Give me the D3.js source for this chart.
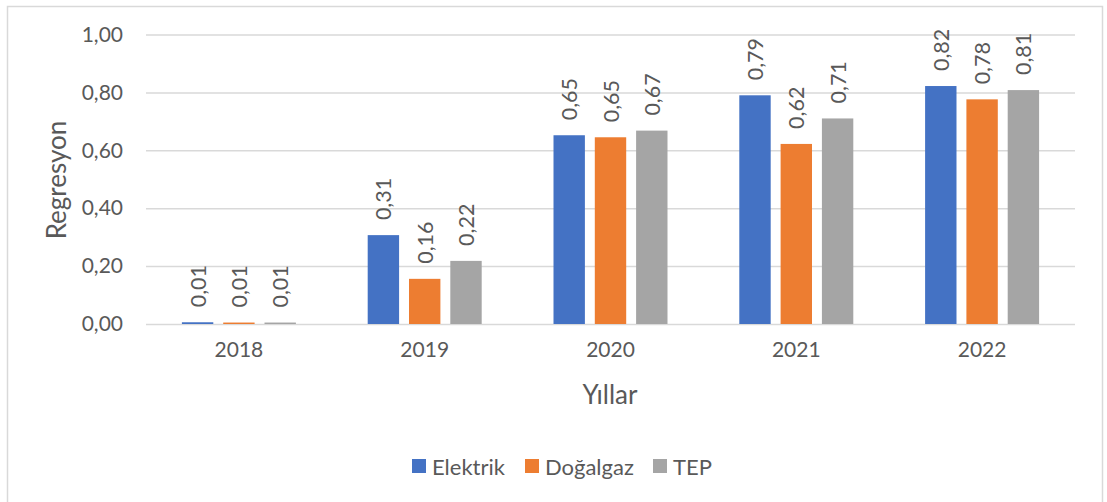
<html>
<head>
<script src="https://d3js.org/d3.v7.min.js" charset="utf-8"></script>
<style>
body {
	margin:0;
	background:#ffffff;
	font-family: Lato, "Open Sans", sans-serif;
}
svg text {
	fill:#595959;
}
</style>
</head>
<body>
<svg width="1107" height="502" id="viz"></svg>
<script>
var years = ["2018","2019","2020","2021","2022"];
var seriesNames = ["Elektrik","Doğalgaz","TEP"];
var elektrik = [0.006, 0.307, 0.652, 0.790, 0.822];
var dogalgaz = [0.005, 0.156, 0.645, 0.622, 0.776];
var tep = [0.005, 0.218, 0.668, 0.710, 0.808];
var yTicks = [0, 0.2, 0.4, 0.6, 0.8, 1.0];
var colors = ["#4472C4","#ED7D31","#A5A5A5"];

var allSeries = [elektrik, dogalgaz, tep];
var svg = d3.select("#viz");

// chart frame
svg.append("rect").attr("x",7.5).attr("y",6.5).attr("width",1095).attr("height",500)
	.attr("fill","none").attr("stroke","#D9D9D9").attr("stroke-width",1.5);

var xScale = d3.scaleBand().domain(years).range([146,1075]).paddingInner(0).paddingOuter(0);
var yScale = d3.scaleLinear().domain([0,1]).range([324,34.5]);
var groupWidth = 114;
var xInner = d3.scaleBand().domain(seriesNames).range([0,groupWidth]).paddingInner(0.24);

var fmt = function (v) { return v.toFixed(2).replace(".", ","); };

// gridlines
svg.append("g").selectAll("line").data(yTicks).enter().append("line")
	.attr("x1",146).attr("x2",1075)
	.attr("y1",function (d) { return yScale(d)+0.5; })
	.attr("y2",function (d) { return yScale(d)+0.5; })
	.attr("stroke","#D9D9D9").attr("stroke-width",1.5);

// y axis
var yAxis = d3.axisLeft(yScale).tickValues(yTicks).tickFormat(fmt).tickSize(0).tickPadding(0);
var yg = svg.append("g").attr("transform","translate(123,0)").call(yAxis);
yg.select(".domain").remove();
yg.selectAll("text").style("font-size","21px").style("font-family","Lato");

// x axis
var xAxis = d3.axisBottom(xScale).tickSize(0).tickPadding(0);
var xg = svg.append("g").attr("transform","translate(0,342)").call(xAxis);
xg.select(".domain").remove();
xg.selectAll("text").style("font-size","21px").style("font-family","Lato");

// bars
var groups = svg.append("g").selectAll("g").data(years).enter().append("g")
	.attr("transform",function (d) { return "translate(" + (xScale(d) + (xScale.bandwidth()-groupWidth)/2) + ",0)"; });

groups.each(function (yr, i) {
	var g = d3.select(this);
	seriesNames.forEach(function (s, j) {
		var v = allSeries[j][i];
		g.append("rect")
			.attr("x",xInner(s)).attr("width",xInner.bandwidth())
			.attr("y",yScale(v)).attr("height",yScale(0)-yScale(v))
			.attr("fill",colors[j]);
		var cx = xInner(s) + xInner.bandwidth()/2;
		g.append("text")
			.attr("transform","translate(" + cx + "," + (yScale(v)-15) + ")rotate(-90)")
			.attr("dominant-baseline","central")
			.style("font-size","21.5px").style("font-family","Lato")
			.text(fmt(v));
	});
});

// axis titles
svg.append("text").text("Yıllar").attr("x",610).attr("y",404)
	.attr("text-anchor","middle").style("font-size","26px");
svg.append("text").text("Regresyon").attr("transform","translate(56,180)rotate(-90)")
	.attr("text-anchor","middle").attr("dominant-baseline","central").style("font-size","26px");

// legend
var legendX = [412, 525, 653];
var legend = svg.append("g").selectAll("g").data(seriesNames).enter().append("g")
	.attr("transform",function (d,i) { return "translate(" + legendX[i] + ",459)"; });
legend.append("rect").attr("width",14).attr("height",14).attr("fill",function (d,i) { return colors[i]; });
legend.append("text").attr("x",20).attr("y",7).attr("dominant-baseline","central")
	.style("font-size","22px").text(function (d) { return d; });
</script>
</body>
</html>
